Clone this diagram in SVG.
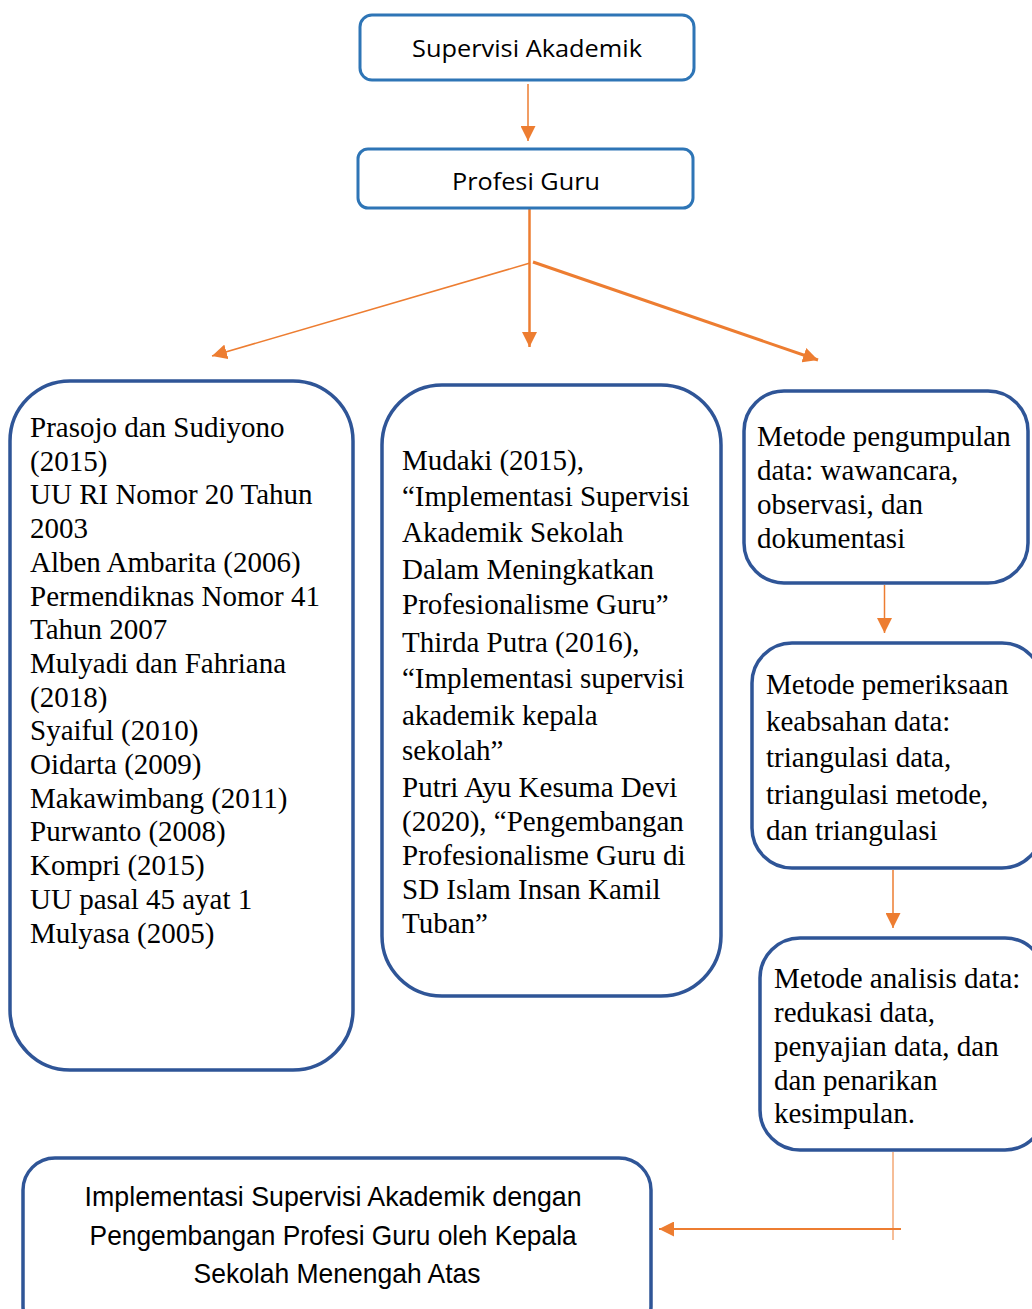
<svg xmlns="http://www.w3.org/2000/svg" width="1032" height="1309" viewBox="0 0 1032 1309">
<style>
.top{fill:#fff;stroke:#2E75B6;stroke-width:3}
.box{fill:#fff;stroke:#2F5597;stroke-width:3.5}
.sans{font-family:"Open Sans","Liberation Sans",sans-serif;font-size:24px;fill:#000}
.narrow{font-family:"Liberation Sans Narrow","Liberation Sans",sans-serif;font-size:28px;fill:#000}
.serif{font-family:"Liberation Serif","Times New Roman",serif;font-size:29px;fill:#000}
.con{stroke:#ED7D31;fill:none}
</style>
<defs>
<marker id="ah2" viewBox="0 0 10 10" refX="10" refY="5" markerWidth="15" markerHeight="15" markerUnits="userSpaceOnUse" orient="auto">
<path d="M0,0 L10,5 L0,10 z" fill="#ED7D31"/>
</marker>
</defs>
<rect width="1032" height="1309" fill="#fff"/>
<g id="connectors">
<line class="con" style="stroke-width:1.5" x1="528" y1="84" x2="528" y2="141" marker-end="url(#ah2)"/>
<line class="con" style="stroke-width:2.5" x1="529.5" y1="208" x2="529.5" y2="347" marker-end="url(#ah2)"/>
<line class="con" style="stroke-width:1.5" x1="530" y1="263" x2="212" y2="356" marker-end="url(#ah2)"/>
<line class="con" style="stroke-width:3" x1="533" y1="262" x2="818" y2="360" marker-end="url(#ah2)"/>
<line class="con" style="stroke-width:1.5" x1="884.5" y1="585" x2="884.5" y2="633" marker-end="url(#ah2)"/>
<line class="con" style="stroke-width:1.5" x1="893" y1="870" x2="893" y2="928" marker-end="url(#ah2)"/>
<line class="con" style="stroke-width:1" x1="893" y1="1152" x2="893" y2="1240"/>
<line class="con" style="stroke-width:2" x1="901" y1="1229" x2="659" y2="1229" marker-end="url(#ah2)"/>
</g>
<g id="n-supervisi">
<rect class="top" x="360" y="15" width="334" height="65" rx="12"/>
<text class="sans" x="527" y="57" text-anchor="middle" textLength="230" lengthAdjust="spacingAndGlyphs">Supervisi Akademik</text>
</g>
<g id="n-profesi">
<rect class="top" x="358" y="149" width="335" height="59" rx="10"/>
<text class="sans" x="526" y="190" text-anchor="middle" textLength="148" lengthAdjust="spacingAndGlyphs">Profesi Guru</text>
</g>
<g id="n-refs1">
<rect class="box" x="10" y="381" width="343" height="689" rx="60"/>
<text class="serif">
<tspan x="30" y="437">Prasojo dan Sudiyono</tspan>
<tspan x="30" y="470.7">(2015)</tspan>
<tspan x="30" y="504.4">UU RI Nomor 20 Tahun</tspan>
<tspan x="30" y="538.1">2003</tspan>
<tspan x="30" y="571.8">Alben Ambarita (2006)</tspan>
<tspan x="30" y="605.5">Permendiknas Nomor 41</tspan>
<tspan x="30" y="639.2">Tahun 2007</tspan>
<tspan x="30" y="672.9">Mulyadi dan Fahriana</tspan>
<tspan x="30" y="706.6">(2018)</tspan>
<tspan x="30" y="740.3">Syaiful (2010)</tspan>
<tspan x="30" y="774">Oidarta (2009)</tspan>
<tspan x="30" y="807.7">Makawimbang (2011)</tspan>
<tspan x="30" y="841.4">Purwanto (2008)</tspan>
<tspan x="30" y="875.1">Kompri (2015)</tspan>
<tspan x="30" y="908.8">UU pasal 45 ayat 1</tspan>
<tspan x="30" y="942.5">Mulyasa (2005)</tspan>
</text>
</g>
<g id="n-refs2">
<rect class="box" x="382" y="385" width="339" height="611" rx="60"/>
<text class="serif">
<tspan x="402" y="470">Mudaki (2015),</tspan>
<tspan x="402" y="506">“Implementasi Supervisi</tspan>
<tspan x="402" y="542">Akademik Sekolah</tspan>
<tspan x="402" y="578.5">Dalam Meningkatkan</tspan>
<tspan x="402" y="614">Profesionalisme Guru”</tspan>
<tspan x="402" y="651.5">Thirda Putra (2016),</tspan>
<tspan x="402" y="688">“Implementasi supervisi</tspan>
<tspan x="402" y="724.5">akademik kepala</tspan>
<tspan x="402" y="760">sekolah”</tspan>
<tspan x="402" y="797">Putri Ayu Kesuma Devi</tspan>
<tspan x="402" y="831">(2020), “Pengembangan</tspan>
<tspan x="402" y="865">Profesionalisme Guru di</tspan>
<tspan x="402" y="898.5">SD Islam Insan Kamil</tspan>
<tspan x="402" y="932.5">Tuban”</tspan>
</text>
</g>
<g id="n-pengumpulan">
<rect class="box" x="744" y="391" width="284" height="192" rx="40"/>
<text class="serif">
<tspan x="757" y="446">Metode pengumpulan</tspan>
<tspan x="757" y="480">data: wawancara,</tspan>
<tspan x="757" y="514">observasi, dan</tspan>
<tspan x="757" y="548">dokumentasi</tspan>
</text>
</g>
<g id="n-keabsahan">
<rect class="box" x="752" y="643" width="290" height="225" rx="40"/>
<text class="serif">
<tspan x="766" y="694">Metode pemeriksaan</tspan>
<tspan x="766" y="730.5">keabsahan data:</tspan>
<tspan x="766" y="767">triangulasi data,</tspan>
<tspan x="766" y="803.5">triangulasi metode,</tspan>
<tspan x="766" y="840">dan triangulasi</tspan>
</text>
</g>
<g id="n-analisis">
<rect class="box" x="760" y="938" width="285" height="212" rx="40"/>
<text class="serif">
<tspan x="774" y="988">Metode analisis data:</tspan>
<tspan x="774" y="1022">redukasi data,</tspan>
<tspan x="774" y="1056">penyajian data, dan</tspan>
<tspan x="774" y="1090">dan penarikan</tspan>
<tspan x="774" y="1123">kesimpulan.</tspan>
</text>
</g>
<g id="n-implementasi">
<rect class="box" x="23" y="1158" width="628" height="180" rx="32"/>
<text class="narrow" text-anchor="middle">
<tspan x="337" y="1206" textLength="497" lengthAdjust="spacingAndGlyphs">Implementasi Supervisi Akademik dengan</tspan>
<tspan x="337" y="1245" textLength="487" lengthAdjust="spacingAndGlyphs">Pengembangan Profesi Guru oleh Kepala</tspan>
<tspan x="337" y="1283" textLength="287" lengthAdjust="spacingAndGlyphs">Sekolah Menengah Atas</tspan>
</text>
</g>
</svg>
